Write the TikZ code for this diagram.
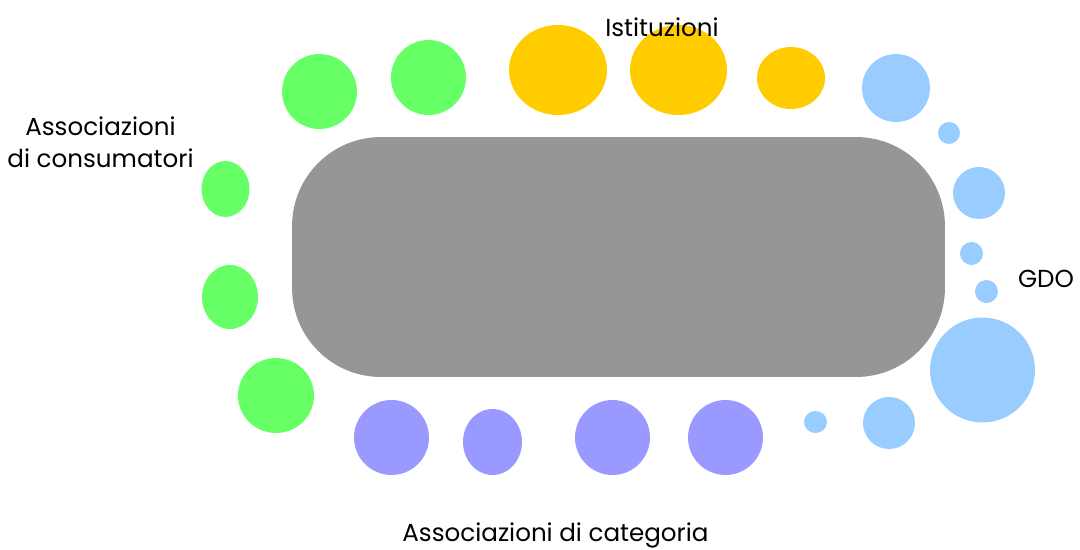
\documentclass[tikz,border=0pt]{standalone}
\usepackage{fontspec}
\setmainfont{Poppins}
\usepackage{tikz}
\usetikzlibrary{positioning,shapes.geometric}
\definecolor{tablegray}{RGB}{150,150,150}
\definecolor{consgreen}{RGB}{102,255,102}
\definecolor{istyellow}{RGB}{255,204,0}
\definecolor{gdoblue}{RGB}{153,204,255}
\definecolor{catviolet}{RGB}{153,153,255}
\tikzset{
  seat/.style 2 args={ellipse, inner sep=0pt, minimum width=0.04cm*#1, minimum height=0.04cm*#2},
  lbl/.style={font=\fontsize{14}{18.1}\selectfont, inner sep=0pt, anchor=base, align=center}
}

\begin{document}
\begin{tikzpicture}[x=0.02cm, y=-0.02cm]
           \useasboundingbox (0,0) rectangle (1080,549);
           \node[rectangle, rounded corners=1.78cm, fill=tablegray, minimum width=13.06cm, minimum height=4.8cm] (table) at (618.5,257) {};
           \node[seat={37.5}{37.5}, fill=consgreen] (c1) at (319.5,91.5) {};
           \node[seat={37.5}{37.5}, fill=consgreen] (c2) at (428.5,77.5) {};
           \node[seat={24}{28}, fill=consgreen] (c3) at (225.5,189) {};
           \node[seat={28}{32}, fill=consgreen] (c4) at (230,297) {};
           \node[seat={38}{37.5}, fill=consgreen] (c5) at (276,395.5) {};
           \node[seat={49}{45}, fill=istyellow] (i1) at (558,70) {};
           \node[seat={48.5}{45}, fill=istyellow] (i2) at (678.5,70) {};
           \node[seat={34}{31}, fill=istyellow] (i3) at (791,78) {};
           \node[seat={34}{34}, fill=gdoblue] (g1) at (896,88) {};
           \node[seat={11}{11}, fill=gdoblue] (g2) at (949,133) {};
           \node[seat={26}{26}, fill=gdoblue] (g3) at (979,193) {};
           \node[seat={11.5}{11.5}, fill=gdoblue] (g4) at (971.5,253.5) {};
           \node[seat={11.5}{11.5}, fill=gdoblue] (g5) at (986.5,291.5) {};
           \node[seat={52.5}{52.5}, fill=gdoblue] (g6) at (982.5,370) {};
           \node[seat={26}{26}, fill=gdoblue] (g7) at (889,423) {};
           \node[seat={11.5}{11}, fill=gdoblue] (g8) at (815.5,422) {};
           \node[seat={37.5}{37.5}, fill=catviolet] (a1) at (391.5,437.5) {};
           \node[seat={29.5}{33}, fill=catviolet] (a2) at (492.5,442) {};
           \node[seat={37.5}{37.5}, fill=catviolet] (a3) at (612.5,437.5) {};
           \node[seat={37.5}{37.5}, fill=catviolet] (a4) at (725.5,437.5) {};
           \node[lbl] (ist) at (662,36) {Istituzioni};
           \node[lbl] (cons) at (100.5,167) {Associazioni\\di consumatori};
           \node[lbl] (gdo) at (1046,287) {GDO};
           \node[lbl] (cat) at (555.5,541) {Associazioni di categoria};
        \end{tikzpicture}
\end{document}
